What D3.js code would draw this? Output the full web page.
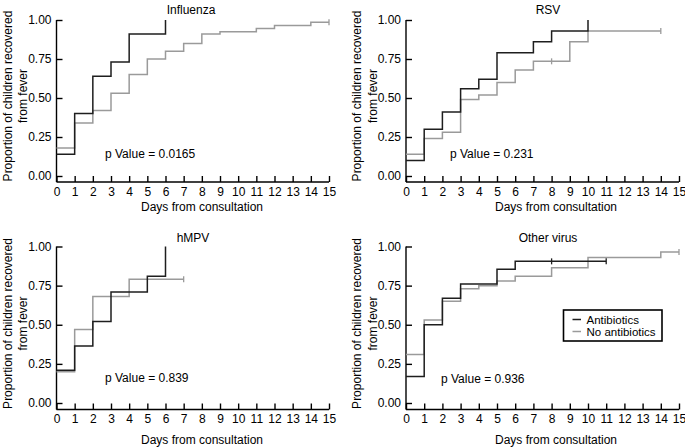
<!DOCTYPE html>
<html>
<head>
<meta charset="utf-8">
<script src="https://cdn.jsdelivr.net/npm/d3@7"></script>
<style>
  html, body { margin: 0; padding: 0; background: #fff; }
  svg { display: block; font-family: "Liberation Sans", Arial, Helvetica, sans-serif; }
</style>
</head>
<body>
<svg id="chart" width="685" height="447"></svg>
<script>
// ---------- DATA ----------
const panelTitles = ["Influenza", "RSV", "hMPV", "Other virus"];
const pValueLabels = ["p Value = 0.0165", "p Value = 0.231", "p Value = 0.839", "p Value = 0.936"];
const xTickValues = [0, 1, 2, 3, 4, 5, 6, 7, 8, 9, 10, 11, 12, 13, 14, 15];
const yTickValues = [0, 0.25, 0.5, 0.75, 1];
const seriesNames = ["Antibiotics", "No antibiotics"];
const xAxisTitle = "Days from consultation";
const yAxisTitleLines = ["Proportion of children recovered", "from fever"];

// step curves: [day, proportion recovered]
const influenzaAntibiotics = [[0, 0.14], [1, 0.40], [2, 0.64], [3, 0.73], [4, 0.91], [6, 1.00]];
const influenzaNoAntibiotics = [[0, 0.18], [1, 0.34], [2, 0.42], [3, 0.53], [4, 0.65], [5, 0.75], [6, 0.80], [7, 0.85], [8, 0.91], [9, 0.925], [11, 0.945], [12, 0.965], [14, 0.985], [15, 0.985]];
const influenzaAntibioticsCensored = [];
const influenzaNoAntibioticsCensored = [15];

const rsvAntibiotics = [[0, 0.10], [1, 0.30], [2, 0.41], [3, 0.56], [4, 0.62], [5, 0.79], [7, 0.86], [8, 0.93], [10, 1.00]];
const rsvNoAntibiotics = [[0, 0.14], [1, 0.24], [2, 0.28], [3, 0.49], [4, 0.52], [5, 0.60], [6, 0.68], [7, 0.735], [9, 0.86], [10, 0.93], [14, 0.93]];
const rsvAntibioticsCensored = [];
const rsvNoAntibioticsCensored = [8, 14];

const hmpvAntibiotics = [[0, 0.21], [1, 0.365], [2, 0.52], [3, 0.71], [5, 0.81], [6, 1.00]];
const hmpvNoAntibiotics = [[0, 0.20], [1, 0.47], [2, 0.68], [4, 0.79], [7, 0.79]];
const hmpvAntibioticsCensored = [];
const hmpvNoAntibioticsCensored = [7];

const otherAntibiotics = [[0, 0.17], [1, 0.50], [2, 0.67], [3, 0.76], [5, 0.855], [6, 0.905], [11, 0.905]];
const otherNoAntibiotics = [[0, 0.31], [1, 0.53], [2, 0.65], [3, 0.73], [4, 0.75], [5, 0.78], [6, 0.81], [8, 0.865], [10, 0.93], [14, 0.965], [15, 0.965]];
const otherAntibioticsCensored = [8, 11];
const otherNoAntibioticsCensored = [15];

// ---------- LAYOUT / STYLE ----------
const colors = { ab: "#1e1e1e", noab: "#9a9a9a" };
const FONT = 12;

const panels = [
  { left: 56.5, right: 329, top: 20, bottom: 176, axisY: 182,
    titleX: 191, titleY: 13.5, pX: 105, pY: 157.5, xtX: 202, xtY: 211, ytCY: 96,
    ab: influenzaAntibiotics, noab: influenzaNoAntibiotics, abC: influenzaAntibioticsCensored, noabC: influenzaNoAntibioticsCensored },
  { left: 406, right: 679, top: 20, bottom: 176, axisY: 182,
    titleX: 548, titleY: 13.5, pX: 450, pY: 157.5, xtX: 556, xtY: 211, ytCY: 96,
    ab: rsvAntibiotics, noab: rsvNoAntibiotics, abC: rsvAntibioticsCensored, noabC: rsvNoAntibioticsCensored },
  { left: 56.5, right: 329, top: 246.5, bottom: 403, axisY: 409.5,
    titleX: 193, titleY: 241.5, pX: 105, pY: 382, xtX: 202, xtY: 444, ytCY: 323.5,
    ab: hmpvAntibiotics, noab: hmpvNoAntibiotics, abC: hmpvAntibioticsCensored, noabC: hmpvNoAntibioticsCensored },
  { left: 406, right: 679, top: 246.5, bottom: 403, axisY: 409.5,
    titleX: 548, titleY: 241.5, pX: 441, pY: 383, xtX: 556, xtY: 444, ytCY: 323.5,
    ab: otherAntibiotics, noab: otherNoAntibiotics, abC: otherAntibioticsCensored, noabC: otherNoAntibioticsCensored,
    legend: true }
];

const svg = d3.select("#chart");

panels.forEach((p, i) => {
  const g = svg.append("g");
  const x = d3.scaleLinear().domain([0, 15]).range([p.left, p.right]);
  const y = d3.scaleLinear().domain([0, 1]).range([p.bottom, p.top]);

  // y axis (ticks pointing inward)
  const yAxis = d3.axisLeft(y).tickValues(yTickValues).tickFormat(d3.format(".2f"))
    .tickSize(-6).tickSizeOuter(0).tickPadding(5);
  const ya = g.append("g").attr("transform", `translate(${p.left},0)`).call(yAxis);
  ya.select(".domain").remove();
  ya.selectAll(".tick line").attr("stroke", "#000").attr("stroke-width", 1.4);
  ya.selectAll(".tick text").attr("fill", "#000").style("font-size", FONT + "px")
    .style("font-family", "'Liberation Sans', Arial, sans-serif");
  g.append("line").attr("x1", p.left).attr("x2", p.left)
    .attr("y1", y(1)).attr("y2", p.axisY).attr("stroke", "#000").attr("stroke-width", 1.4);

  // x axis (ticks pointing up)
  const xAxis = d3.axisBottom(x).tickValues(xTickValues).tickFormat(d3.format("d"))
    .tickSize(-6).tickSizeOuter(0).tickPadding(5);
  const xa = g.append("g").attr("transform", `translate(0,${p.axisY})`).call(xAxis);
  xa.select(".domain").remove();
  xa.selectAll(".tick line").attr("stroke", "#000").attr("stroke-width", 1.4);
  xa.selectAll(".tick text").attr("fill", "#000").style("font-size", FONT + "px")
    .style("font-family", "'Liberation Sans', Arial, sans-serif");
  g.append("line").attr("x1", p.left).attr("x2", x(15))
    .attr("y1", p.axisY).attr("y2", p.axisY).attr("stroke", "#000").attr("stroke-width", 1.4);

  // titles
  g.append("text").attr("x", p.titleX).attr("y", p.titleY).attr("text-anchor", "middle")
    .style("font-size", FONT + "px").text(panelTitles[i]);
  g.append("text").attr("x", p.xtX).attr("y", p.xtY).attr("text-anchor", "middle")
    .style("font-size", FONT + "px").text(xAxisTitle);
  const yt = g.append("g").attr("transform", `translate(${p.left - 45},${p.ytCY}) rotate(-90)`);
  yAxisTitleLines.forEach((t, k) => {
    yt.append("text").attr("x", 0).attr("y", k * 15.5).attr("text-anchor", "middle")
      .style("font-size", FONT + "px").text(t);
  });
  g.append("text").attr("x", p.pX).attr("y", p.pY).style("font-size", FONT + "px").text(pValueLabels[i]);

  // curves
  const line = d3.line().x(d => x(d[0])).y(d => y(d[1])).curve(d3.curveStepAfter);
  const valueAt = (data, day) => {
    let v = data[0][1];
    data.forEach(d => { if (d[0] <= day) v = d[1]; });
    return v;
  };
  const drawSeries = (data, censored, color) => {
    g.append("path").datum(data).attr("d", line).attr("fill", "none")
      .attr("stroke", color).attr("stroke-width", 1.5);
    g.selectAll(null).data(censored).enter().append("line")
      .attr("x1", d => x(d)).attr("x2", d => x(d))
      .attr("y1", d => y(valueAt(data, d)) - 3).attr("y2", d => y(valueAt(data, d)) + 3)
      .attr("stroke", color).attr("stroke-width", 1.3);
  };
  drawSeries(p.noab, p.noabC, colors.noab);
  drawSeries(p.ab, p.abC, colors.ab);

  if (p.legend) {
    const lg = svg.append("g");
    lg.append("rect").attr("x", 563.5).attr("y", 310).attr("width", 98.5).attr("height", 31)
      .attr("fill", "#fff").attr("stroke", "#000").attr("stroke-width", 1.6);
    [colors.ab, colors.noab].forEach((c, k) => {
      const yy = 319.5 + k * 12;
      lg.append("line").attr("x1", 572.5).attr("x2", 581).attr("y1", yy).attr("y2", yy)
        .attr("stroke", c).attr("stroke-width", 1.5);
      lg.append("text").attr("x", 586.5).attr("y", yy + 4).style("font-size", "11.5px")
        .text(seriesNames[k]);
    });
  }
});
</script>
</body>
</html>
